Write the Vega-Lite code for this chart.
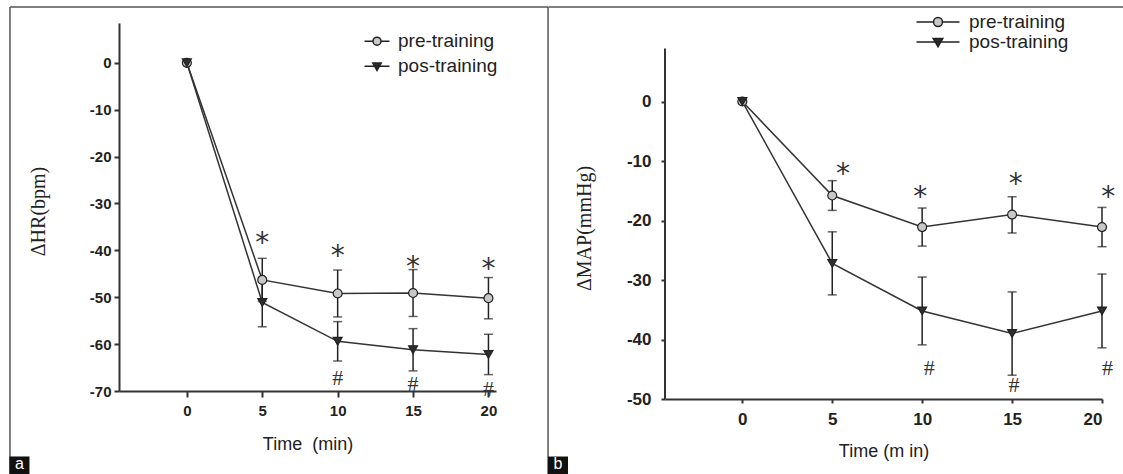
{
  "$schema": "https://vega.github.io/schema/vega-lite/v6.json",
  "background": "white",
  "padding": {"left": 9, "top": 6, "right": 0, "bottom": 0},
  "bounds": "flush",
  "spacing": 169,
  "config": {
    "view": {"stroke": null},
    "font": "Liberation Sans",
    "axis": {"grid": false, "domainColor": "#333", "domainWidth": 2, "tickColor": "#333", "tickWidth": 2, "labelFont": "Liberation Sans", "titleFont": "Liberation Sans", "labelColor": "#222", "titleColor": "#222"}
  },
  "datasets": {
    "hr": [
      {"t": 0, "group": "pre-training", "v": 0},
      {"t": 5, "group": "pre-training", "v": -46.3, "lo": -50.9, "hi": -41.7},
      {"t": 10, "group": "pre-training", "v": -49.2, "lo": -54.2, "hi": -44.2},
      {"t": 15, "group": "pre-training", "v": -49.1, "lo": -54.1, "hi": -44.1},
      {"t": 20, "group": "pre-training", "v": -50.2, "lo": -54.6, "hi": -45.8},
      {"t": 0, "group": "pos-training", "v": 0},
      {"t": 5, "group": "pos-training", "v": -51.1, "lo": -56.3, "hi": -45.9},
      {"t": 10, "group": "pos-training", "v": -59.4, "lo": -63.6, "hi": -55.2},
      {"t": 15, "group": "pos-training", "v": -61.2, "lo": -65.7, "hi": -56.7},
      {"t": 20, "group": "pos-training", "v": -62.2, "lo": -66.5, "hi": -57.9}
    ],
    "hrNotes": [
      {"t": 5, "v": -37.2, "sym": "*"},
      {"t": 10, "v": -40.0, "sym": "*"},
      {"t": 15, "v": -42.2, "sym": "*"},
      {"t": 20, "v": -42.8, "sym": "*"},
      {"t": 10, "v": -67.1, "sym": "#"},
      {"t": 15, "v": -68.5, "sym": "#"},
      {"t": 20, "v": -69.5, "sym": "#"}
    ],
    "map": [
      {"t": 0, "group": "pre-training", "v": 0},
      {"t": 5, "group": "pre-training", "v": -15.8, "lo": -18.3, "hi": -13.3},
      {"t": 10, "group": "pre-training", "v": -21.1, "lo": -24.3, "hi": -17.9},
      {"t": 15, "group": "pre-training", "v": -19.0, "lo": -22.1, "hi": -16.0},
      {"t": 20, "group": "pre-training", "v": -21.1, "lo": -24.4, "hi": -17.8},
      {"t": 0, "group": "pos-training", "v": 0},
      {"t": 5, "group": "pos-training", "v": -27.2, "lo": -32.5, "hi": -21.9},
      {"t": 10, "group": "pos-training", "v": -35.2, "lo": -40.9, "hi": -29.5},
      {"t": 15, "group": "pos-training", "v": -39.0, "lo": -46.0, "hi": -32.0},
      {"t": 20, "group": "pos-training", "v": -35.2, "lo": -41.4, "hi": -29.0}
    ],
    "mapNotes": [
      {"t": 5.6, "v": -11.1, "sym": "*"},
      {"t": 9.9, "v": -15.0, "sym": "*"},
      {"t": 15.2, "v": -12.8, "sym": "*"},
      {"t": 20.35, "v": -15.0, "sym": "*"},
      {"t": 10.4, "v": -44.7, "sym": "#"},
      {"t": 15.1, "v": -47.5, "sym": "#"},
      {"t": 20.3, "v": -44.7, "sym": "#"}
    ]
  },
  "resolve": {
    "scale": {"x": "independent", "y": "independent", "fill": "independent", "shape": "independent"},
    "legend": {"fill": "independent", "shape": "independent"}
  },
  "hconcat": [
    {
      "width": 377,
      "height": 368,
      "resolve": {"scale": {"shape": "independent", "fill": "independent"}, "legend": {"shape": "independent", "fill": "independent"}},
      "layer": [
        {
          "data": {"values": [{}]},
          "mark": {"type": "rule", "color": "#555", "strokeWidth": 1.5},
          "encoding": {
            "x": {"datum": -11.73, "type": "quantitative", "scale": {"domain": [-4.5, 20.5], "nice": false, "zero": false}},
            "x2": {"datum": 23.95},
            "y": {"datum": 11.91, "type": "quantitative", "scale": {"domain": [-70, 8.5], "nice": false, "zero": false}}
          }
        },
        {
          "data": {"values": [{}]},
          "mark": {"type": "rule", "color": "#555", "strokeWidth": 1.5},
          "encoding": {
            "x": {"datum": -11.73, "type": "quantitative"},
            "y": {"datum": 11.91, "type": "quantitative"},
            "y2": {"datum": -88}
          }
        },
        {
          "data": {"values": [{}]},
          "mark": {"type": "rule", "color": "#555", "strokeWidth": 1.5},
          "encoding": {
            "x": {"datum": 23.95, "type": "quantitative"},
            "y": {"datum": 11.91, "type": "quantitative"},
            "y2": {"datum": -88}
          }
        },
        {
          "data": {"values": [{}]},
          "mark": {"type": "point", "shape": "square", "filled": true, "color": "#111", "size": 400, "opacity": 1},
          "encoding": {
            "x": {"datum": -11.1, "type": "quantitative"},
            "y": {"datum": -86.1, "type": "quantitative"}
          }
        },
        {
          "data": {"values": [{"lab": "a"}]},
          "mark": {"type": "text", "color": "white", "fontSize": 16, "font": "Liberation Sans", "baseline": "middle", "align": "center"},
          "encoding": {
            "x": {"datum": -11.1, "type": "quantitative"},
            "y": {"datum": -85.6, "type": "quantitative"},
            "text": {"field": "lab"}
          }
        },
        {
          "data": {"name": "hr"},
          "mark": {"type": "line", "color": "#333", "strokeWidth": 1.5},
          "encoding": {
            "x": {"field": "t", "type": "quantitative", "scale": {"domain": [-4.5, 20.5], "nice": false, "zero": false},
              "axis": {"values": [0, 5, 10, 15, 20], "title": "Time\u00a0 (min)", "tickSize": 6, "labelPadding": 6, "labelFontSize": 15, "labelFontWeight": "bold", "titleFontSize": 18, "titleFontWeight": "normal", "titleY": 44, "titleBaseline": "top"}},
            "y": {"field": "v", "type": "quantitative", "scale": {"domain": [-70, 8.5], "nice": false, "zero": false},
              "axis": {"values": [-70, -60, -50, -40, -30, -20, -10, 0], "labelExpr": "datum.value === 0 ? '0' : '-' + abs(datum.value)", "title": "ΔHR(bpm)", "titleFont": "Liberation Serif", "titleFontSize": 20, "titleFontWeight": "normal", "titleX": -81, "titleY": 188, "titleBaseline": "middle", "titleAngle": 270, "tickSize": 5, "labelPadding": 3, "labelFontSize": 15, "labelFontWeight": "bold"}},
            "detail": {"field": "group"}
          }
        },
        {
          "data": {"name": "hr"},
          "mark": {"type": "rule", "color": "#222", "strokeWidth": 1.5},
          "encoding": {
            "x": {"field": "t", "type": "quantitative"},
            "y": {"field": "lo", "type": "quantitative"},
            "y2": {"field": "hi"}
          }
        },
        {
          "data": {"name": "hr"},
          "mark": {"type": "tick", "orient": "horizontal", "color": "#222", "thickness": 1.5, "size": 9},
          "encoding": {
            "x": {"field": "t", "type": "quantitative"},
            "y": {"field": "lo", "type": "quantitative"}
          }
        },
        {
          "data": {"name": "hr"},
          "mark": {"type": "tick", "orient": "horizontal", "color": "#222", "thickness": 1.5, "size": 9},
          "encoding": {
            "x": {"field": "t", "type": "quantitative"},
            "y": {"field": "hi", "type": "quantitative"}
          }
        },
        {
          "data": {"name": "hr"},
          "mark": {"type": "point", "filled": true, "stroke": "#222", "strokeWidth": 1.2, "size": 80, "opacity": 1},
          "encoding": {
            "x": {"field": "t", "type": "quantitative"},
            "y": {"field": "v", "type": "quantitative"},
            "shape": {"field": "group", "type": "nominal", "scale": {"domain": ["pre-training", "pos-training"], "range": ["circle", "triangle-down"]}, "legend": null},
            "fill": {"field": "group", "type": "nominal", "scale": {"domain": ["pre-training", "pos-training"], "range": ["#c8c8c8", "#2e2e2e"]}, "legend": null}
          }
        },
        {
          "data": {"name": "hr"},
          "transform": [{"filter": "false"}],
          "mark": {"type": "point", "filled": true, "stroke": "#222", "strokeWidth": 1.5, "opacity": 1},
          "encoding": {
            "x": {"field": "t", "type": "quantitative"},
            "y": {"field": "v", "type": "quantitative"},
            "fill": {"field": "group", "type": "nominal",
              "scale": {"domain": ["pre-training", "pos-training"], "range": ["#c8c8c8", "#2e2e2e"]},
              "legend": {"title": null, "orient": "none", "legendX": 247, "legendY": 7.2, "padding": 0, "symbolSize": 400, "labelOffset": 10, "rowPadding": 4, "labelFont": "Liberation Sans", "labelFontSize": 19, "labelColor": "#222"}},
            "shape": {"field": "group", "type": "nominal",
              "scale": {"domain": ["pre-training", "pos-training"], "range": ["M-1.25,0H-0.4M0.4,0H1.25M0.4,0A0.4,0.4,0,1,1,-0.4,0A0.4,0.4,0,1,1,0.4,0Z", "M-1.25,0H1.25M-0.42,-0.32L0.42,-0.32L0,0.42Z"]},
              "legend": {"title": null, "orient": "none", "legendX": 247, "legendY": 7.2, "padding": 0, "symbolSize": 400, "labelOffset": 10, "rowPadding": 4, "labelFont": "Liberation Sans", "labelFontSize": 19, "labelColor": "#222"}}
          }
        },
        {
          "data": {"name": "hrNotes"},
          "transform": [{"filter": "datum.sym === '*'"}],
          "mark": {"type": "text", "font": "DejaVu Sans", "fontSize": 28, "color": "#333", "baseline": "alphabetic", "align": "center", "dy": 15},
          "encoding": {
            "x": {"field": "t", "type": "quantitative"},
            "y": {"field": "v", "type": "quantitative"},
            "text": {"field": "sym"}
          }
        },
        {
          "data": {"name": "hrNotes"},
          "transform": [{"filter": "datum.sym === '#'"}],
          "mark": {"type": "text", "font": "Liberation Serif", "fontSize": 22, "color": "#333", "baseline": "alphabetic", "align": "center", "dy": 7.5},
          "encoding": {
            "x": {"field": "t", "type": "quantitative"},
            "y": {"field": "v", "type": "quantitative"},
            "text": {"field": "sym"}
          }
        }
      ]
    },
    {
      "width": 437,
      "height": 376,
      "resolve": {"scale": {"shape": "independent", "fill": "independent"}, "legend": {"shape": "independent", "fill": "independent"}},
      "layer": [
        {
          "data": {"values": [{}]},
          "mark": {"type": "rule", "color": "#555", "strokeWidth": 1.5},
          "encoding": {
            "x": {"datum": -10.78, "type": "quantitative", "scale": {"domain": [-4.3, 20], "nice": false, "zero": false}},
            "x2": {"datum": 21.3},
            "y": {"datum": 15.89, "type": "quantitative", "scale": {"domain": [-50, 13.2], "nice": false, "zero": false}}
          }
        },
        {
          "data": {"values": [{}]},
          "mark": {"type": "rule", "color": "#333", "strokeWidth": 2},
          "encoding": {
            "x": {"datum": -4.3, "type": "quantitative"},
            "y": {"datum": -50, "type": "quantitative"},
            "y2": {"datum": 8.9}
          }
        },
        {
          "data": {"values": [{}]},
          "mark": {"type": "point", "shape": "square", "filled": true, "color": "#111", "size": 400, "opacity": 1},
          "encoding": {
            "x": {"datum": -10.25, "type": "quantitative"},
            "y": {"datum": -61.35, "type": "quantitative"}
          }
        },
        {
          "data": {"values": [{"lab": "b"}]},
          "mark": {"type": "text", "color": "white", "fontSize": 16, "font": "Liberation Sans", "baseline": "middle", "align": "center"},
          "encoding": {
            "x": {"datum": -10.25, "type": "quantitative"},
            "y": {"datum": -61.0, "type": "quantitative"},
            "text": {"field": "lab"}
          }
        },
        {
          "data": {"name": "map"},
          "mark": {"type": "line", "color": "#333", "strokeWidth": 1.5},
          "encoding": {
            "x": {"field": "t", "type": "quantitative", "scale": {"domain": [-4.3, 20], "nice": false, "zero": false},
              "axis": {"values": [0, 5, 10, 15, 20], "title": "Time (m in)", "tickSize": 4, "labelPadding": 8, "labelFontSize": 17, "labelFontWeight": "bold", "titleFontSize": 18, "titleFontWeight": "normal", "titleY": 43, "titleBaseline": "top"}},
            "y": {"field": "v", "type": "quantitative", "scale": {"domain": [-50, 13.2], "nice": false, "zero": false},
              "axis": {"values": [-50, -40, -30, -20, -10, 0], "labelExpr": "datum.value === 0 ? '0' : '-' + abs(datum.value)", "domain": false, "title": "ΔMAP(mmHg)", "titleFont": "Liberation Serif", "titleFontSize": 20, "titleFontWeight": "normal", "titleX": -81, "titleY": 205, "titleBaseline": "middle", "titleAngle": 270, "tickSize": 4, "labelPadding": 10, "labelFontSize": 17, "labelFontWeight": "bold"}},
            "detail": {"field": "group"}
          }
        },
        {
          "data": {"name": "map"},
          "mark": {"type": "rule", "color": "#222", "strokeWidth": 1.5},
          "encoding": {
            "x": {"field": "t", "type": "quantitative"},
            "y": {"field": "lo", "type": "quantitative"},
            "y2": {"field": "hi"}
          }
        },
        {
          "data": {"name": "map"},
          "mark": {"type": "tick", "orient": "horizontal", "color": "#222", "thickness": 1.5, "size": 9},
          "encoding": {
            "x": {"field": "t", "type": "quantitative"},
            "y": {"field": "lo", "type": "quantitative"}
          }
        },
        {
          "data": {"name": "map"},
          "mark": {"type": "tick", "orient": "horizontal", "color": "#222", "thickness": 1.5, "size": 9},
          "encoding": {
            "x": {"field": "t", "type": "quantitative"},
            "y": {"field": "hi", "type": "quantitative"}
          }
        },
        {
          "data": {"name": "map"},
          "mark": {"type": "point", "filled": true, "stroke": "#222", "strokeWidth": 1.2, "size": 80, "opacity": 1},
          "encoding": {
            "x": {"field": "t", "type": "quantitative"},
            "y": {"field": "v", "type": "quantitative"},
            "shape": {"field": "group", "type": "nominal", "scale": {"domain": ["pre-training", "pos-training"], "range": ["circle", "triangle-down"]}, "legend": null},
            "fill": {"field": "group", "type": "nominal", "scale": {"domain": ["pre-training", "pos-training"], "range": ["#c8c8c8", "#2e2e2e"]}, "legend": null}
          }
        },
        {
          "data": {"name": "map"},
          "transform": [{"filter": "false"}],
          "mark": {"type": "point", "filled": true, "stroke": "#222", "strokeWidth": 1.5, "opacity": 1},
          "encoding": {
            "x": {"field": "t", "type": "quantitative"},
            "y": {"field": "v", "type": "quantitative"},
            "fill": {"field": "group", "type": "nominal",
              "scale": {"domain": ["pre-training", "pos-training"], "range": ["#c8c8c8", "#2e2e2e"]},
              "legend": {"title": null, "orient": "none", "legendX": 263.5, "legendY": -10.5, "padding": 0, "symbolSize": 256, "labelOffset": 21.5, "rowPadding": 0, "labelFont": "Liberation Sans", "labelFontSize": 19, "labelColor": "#222"}},
            "shape": {"field": "group", "type": "nominal",
              "scale": {"domain": ["pre-training", "pos-training"], "range": ["M-2.69,0H-0.56M0.56,0H2.69M0.56,0A0.56,0.56,0,1,1,-0.56,0A0.56,0.56,0,1,1,0.56,0Z", "M-2.69,0H2.69M-0.6,-0.45L0.6,-0.45L0,0.6Z"]},
              "legend": {"title": null, "orient": "none", "legendX": 263.5, "legendY": -10.5, "padding": 0, "symbolSize": 256, "labelOffset": 21.5, "rowPadding": 0, "labelFont": "Liberation Sans", "labelFontSize": 19, "labelColor": "#222"}}
          }
        },
        {
          "data": {"name": "mapNotes"},
          "transform": [{"filter": "datum.sym === '*'"}],
          "mark": {"type": "text", "font": "DejaVu Sans", "fontSize": 28, "color": "#333", "baseline": "alphabetic", "align": "center", "dy": 15},
          "encoding": {
            "x": {"field": "t", "type": "quantitative"},
            "y": {"field": "v", "type": "quantitative"},
            "text": {"field": "sym"}
          }
        },
        {
          "data": {"name": "mapNotes"},
          "transform": [{"filter": "datum.sym === '#'"}],
          "mark": {"type": "text", "font": "Liberation Serif", "fontSize": 22, "color": "#333", "baseline": "alphabetic", "align": "center", "dy": 7.5},
          "encoding": {
            "x": {"field": "t", "type": "quantitative"},
            "y": {"field": "v", "type": "quantitative"},
            "text": {"field": "sym"}
          }
        }
      ]
    }
  ]
}
